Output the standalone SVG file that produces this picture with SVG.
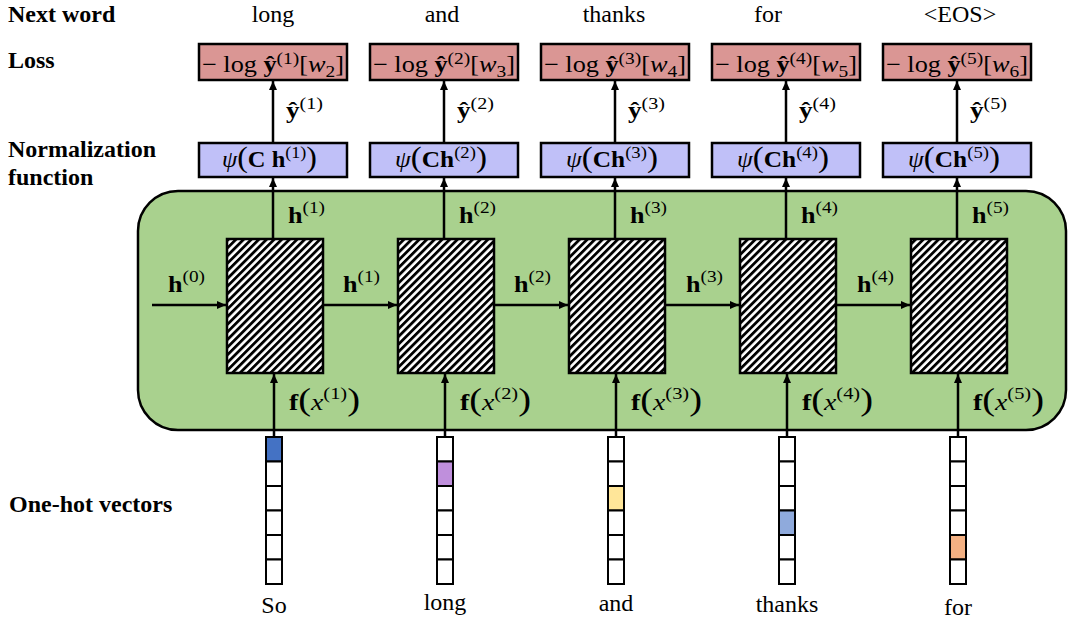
<svg xmlns="http://www.w3.org/2000/svg" width="1068" height="624" viewBox="0 0 1068 624">
<style>
.lbl{font-family:"Liberation Serif","Times New Roman",serif;font-size:24px;fill:#000}
.b{font-weight:bold}
.m{font-family:"Liberation Serif","Times New Roman",serif;font-size:23px;fill:#000}
.sup{font-size:17px}
.it{font-style:italic}
.loss{fill:#DA9694;stroke:#000;stroke-width:2.5}
.norm{fill:#C0C0F8;stroke:#000;stroke-width:2.5}
.hatch{fill:url(#hp);stroke:#000;stroke-width:2.5}
.conn{stroke:#000;stroke-width:2.5;fill:none}
.cell{fill:#fff;stroke:#000;stroke-width:2}
</style>
<defs>
<pattern id="hp" patternUnits="userSpaceOnUse" width="5.4" height="5.4" patternTransform="rotate(45)">
<rect width="5.4" height="5.4" fill="#fff"/>
<rect width="2.8" height="5.4" fill="#000"/>
</pattern>
<marker id="ah" markerUnits="userSpaceOnUse" markerWidth="9" markerHeight="8" refX="9" refY="4" orient="auto">
<path d="M0,0 L9,4 L0,8 z" fill="#000"/>
</marker>
</defs>

<g id="labels">
<text class="lbl b" x="8" y="22">Next word</text>
<text class="lbl b" x="8" y="68">Loss</text>
<text class="lbl b" x="8" y="157">Normalization</text>
<text class="lbl b" x="8" y="185">function</text>
<text class="lbl b" x="9" y="512">One-hot vectors</text>
<text class="lbl" x="273" y="22" text-anchor="middle">long</text>
<text class="lbl" x="442" y="22" text-anchor="middle">and</text>
<text class="lbl" x="614" y="22" text-anchor="middle">thanks</text>
<text class="lbl" x="768" y="22" text-anchor="middle">for</text>
<text class="lbl" x="960" y="22" text-anchor="middle">&lt;EOS&gt;</text>
<text class="lbl" x="274" y="613" text-anchor="middle">So</text>
<text class="lbl" x="445" y="610" text-anchor="middle">long</text>
<text class="lbl" x="616" y="611" text-anchor="middle">and</text>
<text class="lbl" x="787" y="612" text-anchor="middle">thanks</text>
<text class="lbl" x="958" y="615" text-anchor="middle">for</text>
</g>

<g id="rnn">
<rect x="138" y="191" width="928" height="239" rx="40" ry="40" fill="#A9D18E" stroke="#000" stroke-width="2.5"/>
</g>

<g id="loss1"><rect class="loss" x="199" y="44" width="148" height="36"/>
<text class="m" x="202" y="72" textLength="142" lengthAdjust="spacingAndGlyphs">− log <tspan class="b">ŷ</tspan><tspan class="sup" dy="-8">(1)</tspan><tspan dy="8">[</tspan><tspan class="it">w</tspan><tspan class="sup" dy="5">2</tspan><tspan dy="-5">]</tspan></text></g>
<g id="loss2"><rect class="loss" x="370" y="44" width="148" height="36"/>
<text class="m" x="373" y="72" textLength="142" lengthAdjust="spacingAndGlyphs">− log <tspan class="b">ŷ</tspan><tspan class="sup" dy="-8">(2)</tspan><tspan dy="8">[</tspan><tspan class="it">w</tspan><tspan class="sup" dy="5">3</tspan><tspan dy="-5">]</tspan></text></g>
<g id="loss3"><rect class="loss" x="541" y="44" width="148" height="36"/>
<text class="m" x="544" y="72" textLength="142" lengthAdjust="spacingAndGlyphs">− log <tspan class="b">ŷ</tspan><tspan class="sup" dy="-8">(3)</tspan><tspan dy="8">[</tspan><tspan class="it">w</tspan><tspan class="sup" dy="5">4</tspan><tspan dy="-5">]</tspan></text></g>
<g id="loss4"><rect class="loss" x="712" y="44" width="148" height="36"/>
<text class="m" x="715" y="72" textLength="142" lengthAdjust="spacingAndGlyphs">− log <tspan class="b">ŷ</tspan><tspan class="sup" dy="-8">(4)</tspan><tspan dy="8">[</tspan><tspan class="it">w</tspan><tspan class="sup" dy="5">5</tspan><tspan dy="-5">]</tspan></text></g>
<g id="loss5"><rect class="loss" x="883" y="44" width="148" height="36"/>
<text class="m" x="886" y="72" textLength="142" lengthAdjust="spacingAndGlyphs">− log <tspan class="b">ŷ</tspan><tspan class="sup" dy="-8">(5)</tspan><tspan dy="8">[</tspan><tspan class="it">w</tspan><tspan class="sup" dy="5">6</tspan><tspan dy="-5">]</tspan></text></g>

<g id="norm1"><rect class="norm" x="199" y="143" width="148" height="34"/>
<text class="m" x="222" y="167" font-size="25" textLength="95" lengthAdjust="spacingAndGlyphs"><tspan class="it">ψ</tspan><tspan font-size="30">(</tspan><tspan class="b">C h</tspan><tspan class="sup" dy="-9">(1)</tspan><tspan font-size="30" dy="9">)</tspan></text></g>
<g id="norm2"><rect class="norm" x="370" y="143" width="148" height="34"/>
<text class="m" x="395" y="167" font-size="25" textLength="92" lengthAdjust="spacingAndGlyphs"><tspan class="it">ψ</tspan><tspan font-size="30">(</tspan><tspan class="b">Ch</tspan><tspan class="sup" dy="-9">(2)</tspan><tspan font-size="30" dy="9">)</tspan></text></g>
<g id="norm3"><rect class="norm" x="541" y="143" width="148" height="34"/>
<text class="m" x="566" y="167" font-size="25" textLength="92" lengthAdjust="spacingAndGlyphs"><tspan class="it">ψ</tspan><tspan font-size="30">(</tspan><tspan class="b">Ch</tspan><tspan class="sup" dy="-9">(3)</tspan><tspan font-size="30" dy="9">)</tspan></text></g>
<g id="norm4"><rect class="norm" x="712" y="143" width="148" height="34"/>
<text class="m" x="737" y="167" font-size="25" textLength="92" lengthAdjust="spacingAndGlyphs"><tspan class="it">ψ</tspan><tspan font-size="30">(</tspan><tspan class="b">Ch</tspan><tspan class="sup" dy="-9">(4)</tspan><tspan font-size="30" dy="9">)</tspan></text></g>
<g id="norm5"><rect class="norm" x="883" y="143" width="148" height="34"/>
<text class="m" x="908" y="167" font-size="25" textLength="92" lengthAdjust="spacingAndGlyphs"><tspan class="it">ψ</tspan><tspan font-size="30">(</tspan><tspan class="b">Ch</tspan><tspan class="sup" dy="-9">(5)</tspan><tspan font-size="30" dy="9">)</tspan></text></g>

<g id="cell1"><rect class="hatch" x="227" y="239" width="96" height="134"/></g>
<g id="cell2"><rect class="hatch" x="398" y="239" width="96" height="134"/></g>
<g id="cell3"><rect class="hatch" x="569" y="239" width="96" height="134"/></g>
<g id="cell4"><rect class="hatch" x="740" y="239" width="96" height="134"/></g>
<g id="cell5"><rect class="hatch" x="911" y="239" width="96" height="134"/></g>

<g id="onehot1">
<rect class="cell" x="266" y="437" width="16" height="24.5" style="fill:#4472C4"/>
<rect class="cell" x="266" y="461.5" width="16" height="24.5"/>
<rect class="cell" x="266" y="486" width="16" height="24.5"/>
<rect class="cell" x="266" y="510.5" width="16" height="24.5"/>
<rect class="cell" x="266" y="535" width="16" height="24.5"/>
<rect class="cell" x="266" y="559.5" width="16" height="24.5"/>
</g>
<g id="onehot2">
<rect class="cell" x="437" y="437" width="16" height="24.5"/>
<rect class="cell" x="437" y="461.5" width="16" height="24.5" style="fill:#BF8FDC"/>
<rect class="cell" x="437" y="486" width="16" height="24.5"/>
<rect class="cell" x="437" y="510.5" width="16" height="24.5"/>
<rect class="cell" x="437" y="535" width="16" height="24.5"/>
<rect class="cell" x="437" y="559.5" width="16" height="24.5"/>
</g>
<g id="onehot3">
<rect class="cell" x="608" y="437" width="16" height="24.5"/>
<rect class="cell" x="608" y="461.5" width="16" height="24.5"/>
<rect class="cell" x="608" y="486" width="16" height="24.5" style="fill:#FFE699"/>
<rect class="cell" x="608" y="510.5" width="16" height="24.5"/>
<rect class="cell" x="608" y="535" width="16" height="24.5"/>
<rect class="cell" x="608" y="559.5" width="16" height="24.5"/>
</g>
<g id="onehot4">
<rect class="cell" x="779" y="437" width="16" height="24.5"/>
<rect class="cell" x="779" y="461.5" width="16" height="24.5"/>
<rect class="cell" x="779" y="486" width="16" height="24.5"/>
<rect class="cell" x="779" y="510.5" width="16" height="24.5" style="fill:#8FAADC"/>
<rect class="cell" x="779" y="535" width="16" height="24.5"/>
<rect class="cell" x="779" y="559.5" width="16" height="24.5"/>
</g>
<g id="onehot5">
<rect class="cell" x="950" y="437" width="16" height="24.5"/>
<rect class="cell" x="950" y="461.5" width="16" height="24.5"/>
<rect class="cell" x="950" y="486" width="16" height="24.5"/>
<rect class="cell" x="950" y="510.5" width="16" height="24.5"/>
<rect class="cell" x="950" y="535" width="16" height="24.5" style="fill:#F4B183"/>
<rect class="cell" x="950" y="559.5" width="16" height="24.5"/>
</g>

<g id="connectors">
<line class="conn" x1="273" y1="143" x2="273" y2="81" marker-end="url(#ah)"/>
<line class="conn" x1="444" y1="143" x2="444" y2="81" marker-end="url(#ah)"/>
<line class="conn" x1="615" y1="143" x2="615" y2="81" marker-end="url(#ah)"/>
<line class="conn" x1="786" y1="143" x2="786" y2="81" marker-end="url(#ah)"/>
<line class="conn" x1="957" y1="143" x2="957" y2="81" marker-end="url(#ah)"/>
<line class="conn" x1="273" y1="239" x2="273" y2="178" marker-end="url(#ah)"/>
<line class="conn" x1="444" y1="239" x2="444" y2="178" marker-end="url(#ah)"/>
<line class="conn" x1="615" y1="239" x2="615" y2="178" marker-end="url(#ah)"/>
<line class="conn" x1="786" y1="239" x2="786" y2="178" marker-end="url(#ah)"/>
<line class="conn" x1="957" y1="239" x2="957" y2="178" marker-end="url(#ah)"/>
<line class="conn" x1="274" y1="437" x2="274" y2="374" marker-end="url(#ah)"/>
<line class="conn" x1="445" y1="437" x2="445" y2="374" marker-end="url(#ah)"/>
<line class="conn" x1="616" y1="437" x2="616" y2="374" marker-end="url(#ah)"/>
<line class="conn" x1="787" y1="437" x2="787" y2="374" marker-end="url(#ah)"/>
<line class="conn" x1="958" y1="437" x2="958" y2="374" marker-end="url(#ah)"/>
<line class="conn" x1="152" y1="305" x2="226" y2="305" marker-end="url(#ah)"/>
<line class="conn" x1="323" y1="305" x2="397" y2="305" marker-end="url(#ah)"/>
<line class="conn" x1="494" y1="305" x2="568" y2="305" marker-end="url(#ah)"/>
<line class="conn" x1="665" y1="305" x2="739" y2="305" marker-end="url(#ah)"/>
<line class="conn" x1="836" y1="305" x2="910" y2="305" marker-end="url(#ah)"/>
</g>

<g id="edge-labels">
<text class="m" x="286" y="118" font-size="25" textLength="37" lengthAdjust="spacingAndGlyphs"><tspan class="b">ŷ</tspan><tspan class="sup" dy="-9">(1)</tspan></text>
<text class="m" x="457" y="118" font-size="25" textLength="37" lengthAdjust="spacingAndGlyphs"><tspan class="b">ŷ</tspan><tspan class="sup" dy="-9">(2)</tspan></text>
<text class="m" x="628" y="118" font-size="25" textLength="37" lengthAdjust="spacingAndGlyphs"><tspan class="b">ŷ</tspan><tspan class="sup" dy="-9">(3)</tspan></text>
<text class="m" x="799" y="118" font-size="25" textLength="37" lengthAdjust="spacingAndGlyphs"><tspan class="b">ŷ</tspan><tspan class="sup" dy="-9">(4)</tspan></text>
<text class="m" x="970" y="118" font-size="25" textLength="37" lengthAdjust="spacingAndGlyphs"><tspan class="b">ŷ</tspan><tspan class="sup" dy="-9">(5)</tspan></text>
<text class="m" x="288" y="223" font-size="26" textLength="37" lengthAdjust="spacingAndGlyphs"><tspan class="b">h</tspan><tspan class="sup" dy="-10">(1)</tspan></text>
<text class="m" x="459" y="223" font-size="26" textLength="37" lengthAdjust="spacingAndGlyphs"><tspan class="b">h</tspan><tspan class="sup" dy="-10">(2)</tspan></text>
<text class="m" x="630" y="223" font-size="26" textLength="37" lengthAdjust="spacingAndGlyphs"><tspan class="b">h</tspan><tspan class="sup" dy="-10">(3)</tspan></text>
<text class="m" x="801" y="223" font-size="26" textLength="37" lengthAdjust="spacingAndGlyphs"><tspan class="b">h</tspan><tspan class="sup" dy="-10">(4)</tspan></text>
<text class="m" x="972" y="223" font-size="26" textLength="37" lengthAdjust="spacingAndGlyphs"><tspan class="b">h</tspan><tspan class="sup" dy="-10">(5)</tspan></text>
<text class="m" x="168" y="292" font-size="26" textLength="37" lengthAdjust="spacingAndGlyphs"><tspan class="b">h</tspan><tspan class="sup" dy="-10">(0)</tspan></text>
<text class="m" x="343" y="292" font-size="26" textLength="37" lengthAdjust="spacingAndGlyphs"><tspan class="b">h</tspan><tspan class="sup" dy="-10">(1)</tspan></text>
<text class="m" x="514" y="292" font-size="26" textLength="37" lengthAdjust="spacingAndGlyphs"><tspan class="b">h</tspan><tspan class="sup" dy="-10">(2)</tspan></text>
<text class="m" x="686" y="292" font-size="26" textLength="37" lengthAdjust="spacingAndGlyphs"><tspan class="b">h</tspan><tspan class="sup" dy="-10">(3)</tspan></text>
<text class="m" x="857" y="292" font-size="26" textLength="37" lengthAdjust="spacingAndGlyphs"><tspan class="b">h</tspan><tspan class="sup" dy="-10">(4)</tspan></text>
<text class="m" x="289" y="410" font-size="26" textLength="71" lengthAdjust="spacingAndGlyphs"><tspan class="b">f</tspan><tspan font-size="32">(</tspan><tspan class="it">x</tspan><tspan class="sup" dy="-11">(1)</tspan><tspan font-size="32" dy="11">)</tspan></text>
<text class="m" x="460" y="410" font-size="26" textLength="71" lengthAdjust="spacingAndGlyphs"><tspan class="b">f</tspan><tspan font-size="32">(</tspan><tspan class="it">x</tspan><tspan class="sup" dy="-11">(2)</tspan><tspan font-size="32" dy="11">)</tspan></text>
<text class="m" x="631" y="410" font-size="26" textLength="71" lengthAdjust="spacingAndGlyphs"><tspan class="b">f</tspan><tspan font-size="32">(</tspan><tspan class="it">x</tspan><tspan class="sup" dy="-11">(3)</tspan><tspan font-size="32" dy="11">)</tspan></text>
<text class="m" x="802" y="410" font-size="26" textLength="71" lengthAdjust="spacingAndGlyphs"><tspan class="b">f</tspan><tspan font-size="32">(</tspan><tspan class="it">x</tspan><tspan class="sup" dy="-11">(4)</tspan><tspan font-size="32" dy="11">)</tspan></text>
<text class="m" x="973" y="410" font-size="26" textLength="71" lengthAdjust="spacingAndGlyphs"><tspan class="b">f</tspan><tspan font-size="32">(</tspan><tspan class="it">x</tspan><tspan class="sup" dy="-11">(5)</tspan><tspan font-size="32" dy="11">)</tspan></text>
</g>
</svg>
